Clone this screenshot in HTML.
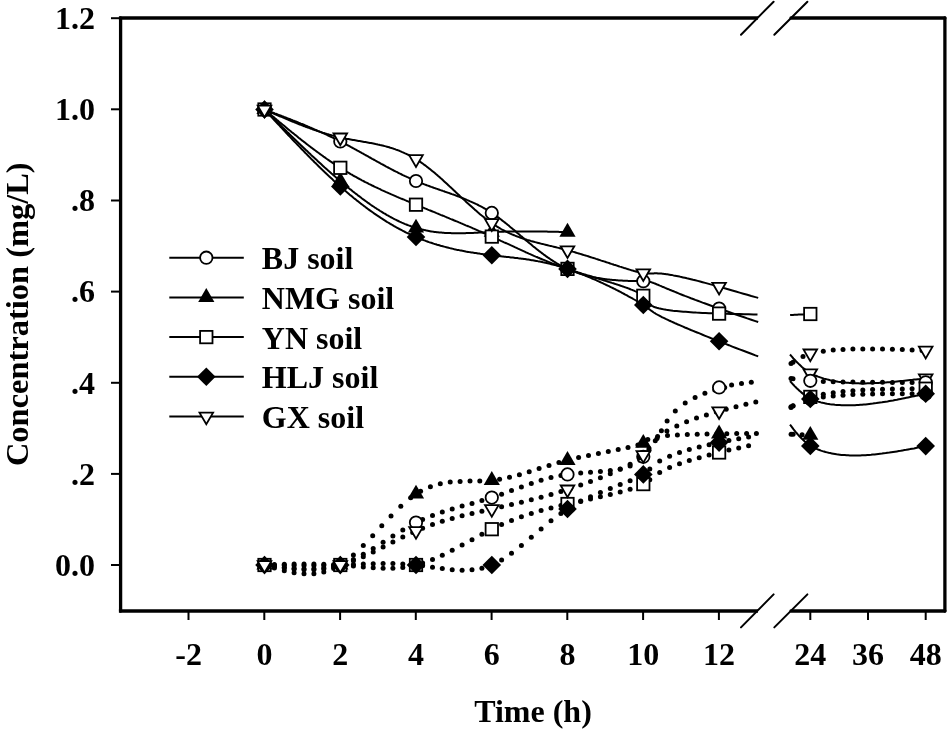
<!DOCTYPE html>
<html><head><meta charset="utf-8"><title>Concentration vs Time</title>
<style>
html,body{margin:0;padding:0;background:#fff;}
body{width:948px;height:732px;overflow:hidden;}
svg{display:block;}
text{font-family:"Liberation Serif",serif;font-weight:bold;font-size:32px;fill:#000;}
.ax{stroke:#000;stroke-width:3.3;fill:none;stroke-linecap:round;}
.tk{stroke:#000;stroke-width:2;fill:none;}
.sl{stroke:#000;stroke-width:2;fill:none;stroke-linecap:round;}
.ln{stroke:#000;stroke-width:2;fill:none;stroke-linejoin:round;}
.o{fill:#fff;stroke:#000;stroke-width:1.8;stroke-linejoin:miter;}
.f{fill:#000;stroke:none;}
.d{fill:#000;}
</style></head><body>
<svg width="948" height="732" viewBox="0 0 948 732">
<rect width="948" height="732" fill="#fff"/>
<g class="ax">
<path d="M120.6 18.0 V611.0"/>
<path d="M944.9 18.0 V611.0"/>
<path d="M118.9 18.0 H758" stroke-linecap="butt"/><path d="M791 18.0 H944.9"/>
<path d="M118.9 611.0 H758" stroke-linecap="butt"/><path d="M791 611.0 H944.9"/>
</g>
<g class="tk">
<path d="M111 18.2 H120"/>
<path d="M111 109.3 H120"/>
<path d="M111 200.5 H120"/>
<path d="M111 291.6 H120"/>
<path d="M111 382.8 H120"/>
<path d="M111 473.9 H120"/>
<path d="M111 565.0 H120"/>
<path d="M188.5 611 V620"/>
<path d="M264.3 611 V620"/>
<path d="M340.1 611 V620"/>
<path d="M415.8 611 V620"/>
<path d="M491.6 611 V620"/>
<path d="M567.3 611 V620"/>
<path d="M643.1 611 V620"/>
<path d="M718.9 611 V620"/>
<path d="M810.3 611 V620"/>
<path d="M868.0 611 V620"/>
<path d="M925.7 611 V620"/>
<path class="sl" d="M741.0 34.7 L773.6 1.7"/>
<path class="sl" d="M774.3 34.7 L807.4 1.7"/>
<path class="sl" d="M741.0 627.4 L773.6 594.4"/>
<path class="sl" d="M774.3 627.4 L807.4 594.4"/>
</g>
<text x="95" y="28.5" text-anchor="end">1.2</text>
<text x="95" y="119.8" text-anchor="end">1.0</text>
<text x="95" y="211.0" text-anchor="end">.8</text>
<text x="95" y="302.3" text-anchor="end">.6</text>
<text x="95" y="393.6" text-anchor="end">.4</text>
<text x="95" y="484.8" text-anchor="end">.2</text>
<text x="95" y="576.1" text-anchor="end">0.0</text>
<text x="188.7" y="665" text-anchor="middle">-2</text>
<text x="264.5" y="665" text-anchor="middle">0</text>
<text x="340.3" y="665" text-anchor="middle">2</text>
<text x="416.0" y="665" text-anchor="middle">4</text>
<text x="491.8" y="665" text-anchor="middle">6</text>
<text x="567.5" y="665" text-anchor="middle">8</text>
<text x="643.3" y="665" text-anchor="middle">10</text>
<text x="719.1" y="665" text-anchor="middle">12</text>
<text x="810.3" y="665" text-anchor="middle">24</text>
<text x="868.0" y="665" text-anchor="middle">36</text>
<text x="925.7" y="665" text-anchor="middle">48</text>
<text x="533" y="722" text-anchor="middle">Time (h)</text>
<text transform="translate(27.5 314.2) rotate(-90)" text-anchor="middle" style="font-size:32.46px">Concentration (mg/L)</text>
<g><!-- BJ solid -->
<path class="ln" d="M264.5 109.5 L265.6 109.9 L266.8 110.4 L267.9 110.8 L269.1 111.2 L270.2 111.6 L271.3 112.1 L272.5 112.5 L273.6 112.9 L274.7 113.4 L275.9 113.8 L277.0 114.2 L278.2 114.7 L279.3 115.1 L280.4 115.5 L281.6 116.0 L282.7 116.4 L283.8 116.8 L285.0 117.3 L286.1 117.7 L287.3 118.2 L288.4 118.6 L289.5 119.0 L290.7 119.5 L291.8 119.9 L292.9 120.4 L294.1 120.8 L295.2 121.3 L296.4 121.7 L297.5 122.2 L298.6 122.7 L299.8 123.1 L300.9 123.6 L302.0 124.0 L303.2 124.5 L304.3 125.0 L305.4 125.5 L306.6 125.9 L307.7 126.4 L308.9 126.9 L310.0 127.4 L311.1 127.8 L312.3 128.3 L313.4 128.8 L314.5 129.3 L315.7 129.8 L316.8 130.3 L317.9 130.8 L319.1 131.3 L320.2 131.8 L321.4 132.3 L322.5 132.8 L323.6 133.4 L324.8 133.9 L325.9 134.4 L327.0 134.9 L328.2 135.5 L329.3 136.0 L330.4 136.5 L331.6 137.1 L332.7 137.6 L333.8 138.2 L335.0 138.7 L336.1 139.3 L337.2 139.9 L338.4 140.4 L339.5 141.0 L340.4 141.5 L341.6 142.1 L342.7 142.6 L343.8 143.2 L345.0 143.8 L346.1 144.4 L347.2 145.0 L348.4 145.6 L349.5 146.2 L350.6 146.8 L351.8 147.5 L352.9 148.1 L354.0 148.7 L355.2 149.3 L356.3 149.9 L357.4 150.6 L358.6 151.2 L359.7 151.8 L360.8 152.4 L362.0 153.1 L363.1 153.7 L364.2 154.3 L365.4 155.0 L366.5 155.6 L367.6 156.2 L368.8 156.9 L369.9 157.5 L371.0 158.1 L372.2 158.8 L373.3 159.4 L374.4 160.0 L375.6 160.7 L376.7 161.3 L377.8 161.9 L379.0 162.5 L380.1 163.2 L381.2 163.8 L382.4 164.4 L383.5 165.0 L384.7 165.6 L385.8 166.3 L386.9 166.9 L388.1 167.5 L389.2 168.1 L390.3 168.7 L391.5 169.3 L392.6 169.9 L393.7 170.5 L394.9 171.1 L396.0 171.7 L397.2 172.2 L398.3 172.8 L399.4 173.4 L400.6 173.9 L401.7 174.5 L402.9 175.1 L404.0 175.6 L405.1 176.2 L406.3 176.7 L407.4 177.2 L408.6 177.7 L409.7 178.3 L410.9 178.8 L412.0 179.3 L413.2 179.8 L414.3 180.3 L415.4 180.8 L416.4 181.2 L417.5 181.6 L418.7 182.1 L419.8 182.6 L421.0 183.0 L422.1 183.5 L423.3 183.9 L424.4 184.4 L425.6 184.8 L426.7 185.2 L427.9 185.6 L429.0 186.0 L430.2 186.5 L431.3 186.9 L432.5 187.3 L433.6 187.7 L434.8 188.1 L435.9 188.5 L437.1 188.9 L438.2 189.3 L439.4 189.7 L440.5 190.1 L441.7 190.5 L442.8 190.9 L444.0 191.3 L445.1 191.7 L446.3 192.1 L447.4 192.5 L448.6 192.9 L449.7 193.3 L450.9 193.7 L452.0 194.1 L453.2 194.5 L454.3 194.9 L455.4 195.3 L456.6 195.8 L457.7 196.2 L458.9 196.6 L460.0 197.1 L461.1 197.5 L462.3 197.9 L463.4 198.4 L464.6 198.9 L465.7 199.3 L466.8 199.8 L468.0 200.3 L469.1 200.8 L470.2 201.3 L471.4 201.8 L472.5 202.3 L473.6 202.8 L474.7 203.3 L475.9 203.9 L477.0 204.4 L478.1 205.0 L479.2 205.6 L480.3 206.1 L481.4 206.7 L482.6 207.3 L483.7 208.0 L484.8 208.6 L485.9 209.2 L487.0 209.9 L488.1 210.6 L489.2 211.2 L490.3 211.9 L491.4 212.7 L492.3 213.3 L493.4 214.0 L494.5 214.8 L495.6 215.5 L496.7 216.3 L497.8 217.1 L498.9 217.9 L500.0 218.7 L501.1 219.5 L502.1 220.4 L503.2 221.2 L504.3 222.1 L505.4 222.9 L506.5 223.8 L507.6 224.7 L508.7 225.6 L509.7 226.5 L510.8 227.4 L511.9 228.3 L513.0 229.2 L514.1 230.1 L515.2 231.0 L516.3 232.0 L517.3 232.9 L518.4 233.8 L519.5 234.7 L520.6 235.7 L521.7 236.6 L522.8 237.6 L523.9 238.5 L525.0 239.4 L526.1 240.4 L527.2 241.3 L528.3 242.2 L529.5 243.2 L530.6 244.1 L531.7 245.0 L532.8 246.0 L533.9 246.9 L535.1 247.8 L536.2 248.7 L537.3 249.6 L538.5 250.5 L539.6 251.4 L540.8 252.3 L541.9 253.1 L543.1 254.0 L544.2 254.9 L545.4 255.7 L546.6 256.6 L547.7 257.4 L548.9 258.2 L550.1 259.0 L551.3 259.8 L552.5 260.6 L553.7 261.4 L554.9 262.1 L556.1 262.9 L557.3 263.6 L558.6 264.3 L559.8 265.0 L561.0 265.7 L562.3 266.3 L563.5 267.0 L564.8 267.6 L566.1 268.2 L567.3 268.8 L568.4 269.3 L569.7 269.9 L571.0 270.4 L572.3 270.9 L573.6 271.4 L574.9 271.9 L576.2 272.4 L577.5 272.9 L578.8 273.3 L580.2 273.7 L581.5 274.1 L582.8 274.5 L584.1 274.9 L585.5 275.2 L586.8 275.6 L588.1 275.9 L589.5 276.2 L590.8 276.5 L592.1 276.8 L593.4 277.1 L594.8 277.4 L596.1 277.6 L597.4 277.9 L598.7 278.1 L600.0 278.3 L601.3 278.5 L602.6 278.7 L603.9 278.9 L605.2 279.1 L606.4 279.2 L607.7 279.4 L609.0 279.5 L610.2 279.7 L611.4 279.8 L612.7 279.9 L613.9 280.0 L615.1 280.1 L616.3 280.2 L617.4 280.3 L618.6 280.4 L619.8 280.5 L620.9 280.5 L622.0 280.6 L623.1 280.7 L624.2 280.7 L625.3 280.8 L626.4 280.8 L627.4 280.8 L628.4 280.9 L629.4 280.9 L630.4 280.9 L631.4 281.0 L632.4 281.0 L633.3 281.0 L634.2 281.0 L635.1 281.0 L635.9 281.1 L636.8 281.1 L637.6 281.1 L638.4 281.1 L639.2 281.1 L639.9 281.1 L640.7 281.2 L641.4 281.2 L642.0 281.2 L642.7 281.2 L643.3 281.2 L643.8 281.2 L644.4 281.3 L644.9 281.3 L645.4 281.3 L645.9 281.4 L646.4 281.4 L646.9 281.4 L647.4 281.5 L647.8 281.5 L648.2 281.6 L648.7 281.7 L649.1 281.7 L649.5 281.8 L649.9 281.9 L650.3 282.0 L650.7 282.1 L651.2 282.2 L651.6 282.4 L652.0 282.5 L652.4 282.6 L652.9 282.8 L653.4 283.0 L653.8 283.1 L654.3 283.3 L654.9 283.5 L655.4 283.7 L655.9 284.0 L656.5 284.2 L657.1 284.5 L657.8 284.7 L658.5 285.0 L659.2 285.3 L659.9 285.6 L660.7 285.9 L661.5 286.3 L662.3 286.7 L663.2 287.0 L664.2 287.4 L665.2 287.9 L666.2 288.3 L667.3 288.8 L668.4 289.2 L669.6 289.7 L670.9 290.2 L672.2 290.8 L673.5 291.3 L675.0 291.9 L676.5 292.5 L678.0 293.1 L679.6 293.8 L681.3 294.5 L683.1 295.2 L684.9 295.9 L686.9 296.6 L688.9 297.4 L690.9 298.2 L693.1 299.0 L695.3 299.9 L697.7 300.7 L700.1 301.6 L702.6 302.6 L705.2 303.5 L707.9 304.5 L710.6 305.5 L713.5 306.6 L716.5 307.6 L719.1 308.6 L722.2 309.7 L725.5 310.8 L728.9 312.0 L732.3 313.2 L735.9 314.5 L739.6 315.8 L743.4 317.0 L747.3 318.4 L751.3 319.7 L755.4 321.1 L758.2 322.0"/>
<path class="ln" d="M790.0 381.0 L791.2 382.3 L792.3 383.6 L793.4 384.8 L794.6 386.1 L795.8 387.3 L797.0 388.5 L798.2 389.6 L799.4 390.7 L800.7 391.8 L801.9 392.9 L803.2 393.9 L804.5 394.9 L805.8 395.8 L807.1 396.7 L808.5 397.6 L809.8 398.5 L811.0 399.0 L812.4 399.6 L813.8 400.1 L815.2 400.6 L816.6 401.1 L818.1 401.6 L819.5 402.0 L821.0 402.4 L822.5 402.7 L824.0 403.1 L825.5 403.4 L827.1 403.7 L828.6 403.9 L830.2 404.2 L831.8 404.4 L833.4 404.6 L835.0 404.8 L836.6 404.9 L838.2 405.0 L839.8 405.1 L841.5 405.2 L843.1 405.3 L844.8 405.3 L846.5 405.3 L848.2 405.3 L849.9 405.3 L851.6 405.3 L853.3 405.2 L855.0 405.2 L856.8 405.1 L858.5 405.0 L860.3 404.8 L862.0 404.7 L863.8 404.5 L865.6 404.4 L867.4 404.2 L869.2 404.0 L871.0 403.8 L872.8 403.6 L874.6 403.3 L876.4 403.1 L878.3 402.8 L880.1 402.5 L882.0 402.3 L883.8 402.0 L885.7 401.7 L887.5 401.4 L889.4 401.0 L891.3 400.7 L893.1 400.4 L895.0 400.0 L896.9 399.7 L898.8 399.3 L900.7 398.9 L902.6 398.6 L904.4 398.2 L906.3 397.8 L908.2 397.4 L910.1 397.0 L912.1 396.6 L914.0 396.2 L915.9 395.8 L917.8 395.4 L919.7 395.0 L921.6 394.6 L923.5 394.2 L925.4 393.8 L925.7 393.7"/>
<circle cx="264.5" cy="109.5" r="6.2" class="o"/>
<circle cx="340.3" cy="141.4" r="6.2" class="o"/>
<circle cx="416.0" cy="181.0" r="6.2" class="o"/>
<circle cx="491.8" cy="212.9" r="6.2" class="o"/>
<circle cx="567.5" cy="268.9" r="6.2" class="o"/>
<circle cx="643.3" cy="281.2" r="6.2" class="o"/>
<circle cx="719.1" cy="308.6" r="6.2" class="o"/>
<circle cx="810.3" cy="398.7" r="6.2" class="o"/>
<circle cx="925.7" cy="393.7" r="6.2" class="o"/>
</g>
<g><!-- NMG solid -->
<path class="ln" d="M264.5 109.5 L265.6 110.6 L266.8 111.8 L267.9 112.9 L269.0 114.0 L270.2 115.1 L271.3 116.3 L272.5 117.4 L273.6 118.5 L274.7 119.6 L275.9 120.8 L277.0 121.9 L278.1 123.0 L279.3 124.1 L280.4 125.2 L281.5 126.4 L282.7 127.5 L283.8 128.6 L285.0 129.7 L286.1 130.8 L287.2 131.9 L288.4 133.0 L289.5 134.2 L290.6 135.3 L291.8 136.4 L292.9 137.5 L294.0 138.6 L295.2 139.7 L296.3 140.8 L297.5 141.9 L298.6 143.0 L299.7 144.1 L300.9 145.2 L302.0 146.2 L303.1 147.3 L304.3 148.4 L305.4 149.5 L306.5 150.6 L307.7 151.6 L308.8 152.7 L310.0 153.8 L311.1 154.9 L312.2 155.9 L313.4 157.0 L314.5 158.0 L315.6 159.1 L316.8 160.1 L317.9 161.2 L319.0 162.2 L320.2 163.3 L321.3 164.3 L322.5 165.4 L323.6 166.4 L324.7 167.4 L325.9 168.4 L327.0 169.4 L328.1 170.5 L329.3 171.5 L330.4 172.5 L331.5 173.5 L332.7 174.5 L333.8 175.5 L335.0 176.5 L336.1 177.4 L337.2 178.4 L338.4 179.4 L339.5 180.4 L340.4 181.2 L341.6 182.1 L342.7 183.1 L343.9 184.0 L345.0 185.0 L346.1 185.9 L347.3 186.9 L348.4 187.8 L349.5 188.7 L350.7 189.6 L351.8 190.5 L352.9 191.5 L354.1 192.3 L355.2 193.2 L356.4 194.1 L357.5 195.0 L358.6 195.9 L359.8 196.7 L360.9 197.6 L362.0 198.5 L363.2 199.3 L364.3 200.1 L365.5 201.0 L366.6 201.8 L367.7 202.6 L368.9 203.4 L370.0 204.2 L371.1 205.0 L372.3 205.8 L373.4 206.5 L374.5 207.3 L375.7 208.0 L376.8 208.8 L378.0 209.5 L379.1 210.2 L380.2 211.0 L381.4 211.7 L382.5 212.4 L383.6 213.1 L384.8 213.7 L385.9 214.4 L387.0 215.1 L388.2 215.7 L389.3 216.3 L390.5 217.0 L391.6 217.6 L392.7 218.2 L393.9 218.8 L395.0 219.4 L396.1 219.9 L397.3 220.5 L398.4 221.0 L399.5 221.6 L400.7 222.1 L401.8 222.6 L403.0 223.1 L404.1 223.6 L405.2 224.1 L406.4 224.5 L407.5 225.0 L408.6 225.4 L409.8 225.8 L410.9 226.2 L412.0 226.6 L413.2 227.0 L414.3 227.4 L415.5 227.8 L416.4 228.0 L417.5 228.4 L418.7 228.7 L419.8 229.0 L420.9 229.3 L422.1 229.6 L423.2 229.8 L424.4 230.1 L425.5 230.3 L426.6 230.6 L427.8 230.8 L428.9 231.0 L430.0 231.2 L431.2 231.4 L432.3 231.6 L433.4 231.7 L434.6 231.9 L435.7 232.0 L436.9 232.2 L438.0 232.3 L439.1 232.4 L440.3 232.5 L441.4 232.6 L442.5 232.7 L443.7 232.8 L444.8 232.9 L445.9 232.9 L447.1 233.0 L448.2 233.1 L449.4 233.1 L450.5 233.1 L451.6 233.2 L452.8 233.2 L453.9 233.2 L455.0 233.2 L456.2 233.3 L457.3 233.3 L458.4 233.3 L459.6 233.2 L460.7 233.2 L461.9 233.2 L463.0 233.2 L464.1 233.2 L465.3 233.2 L466.4 233.1 L467.5 233.1 L468.7 233.0 L469.8 233.0 L470.9 233.0 L472.1 232.9 L473.2 232.9 L474.4 232.8 L475.5 232.8 L476.6 232.7 L477.8 232.7 L478.9 232.6 L480.0 232.6 L481.2 232.5 L482.3 232.5 L483.4 232.4 L484.6 232.3 L485.7 232.3 L486.9 232.2 L488.0 232.2 L489.1 232.1 L490.3 232.1 L491.4 232.0 L492.3 232.0 L493.5 232.0 L494.6 231.9 L495.8 231.9 L496.9 231.8 L498.0 231.8 L499.2 231.8 L500.3 231.7 L501.4 231.7 L502.6 231.7 L503.7 231.7 L504.8 231.6 L506.0 231.6 L507.1 231.6 L508.3 231.6 L509.4 231.5 L510.5 231.5 L511.7 231.5 L512.8 231.5 L513.9 231.5 L515.1 231.5 L516.2 231.5 L517.3 231.5 L518.5 231.5 L519.6 231.5 L520.8 231.4 L521.9 231.4 L523.0 231.4 L524.2 231.4 L525.3 231.4 L526.4 231.4 L527.6 231.5 L528.7 231.5 L529.8 231.5 L531.0 231.5 L532.1 231.5 L533.3 231.5 L534.4 231.5 L535.5 231.5 L536.7 231.5 L537.8 231.5 L538.9 231.5 L540.1 231.6 L541.2 231.6 L542.3 231.6 L543.5 231.6 L544.6 231.6 L545.8 231.6 L546.9 231.6 L548.0 231.7 L549.2 231.7 L550.3 231.7 L551.4 231.7 L552.6 231.7 L553.7 231.8 L554.9 231.8 L556.0 231.8 L557.1 231.8 L558.3 231.8 L559.4 231.9 L560.5 231.9 L561.7 231.9 L562.8 231.9 L563.9 232.0 L565.1 232.0 L566.2 232.0 L567.4 232.0 L567.5 232.0"/>
<path d="M264.5 100.2 l8.1 13.9 h-16.2 z" class="f"/>
<path d="M340.3 171.7 l8.1 13.9 h-16.2 z" class="f"/>
<path d="M416.0 218.7 l8.1 13.9 h-16.2 z" class="f"/>
<path d="M491.8 222.8 l8.1 13.9 h-16.2 z" class="f"/>
<path d="M567.5 222.8 l8.1 13.9 h-16.2 z" class="f"/>
</g>
<g><!-- YN solid -->
<path class="ln" d="M264.5 109.5 L265.6 110.5 L266.8 111.4 L267.9 112.4 L269.1 113.3 L270.2 114.3 L271.3 115.2 L272.5 116.2 L273.6 117.1 L274.7 118.1 L275.9 119.0 L277.0 120.0 L278.2 120.9 L279.3 121.9 L280.4 122.8 L281.6 123.8 L282.7 124.7 L283.8 125.6 L285.0 126.6 L286.1 127.5 L287.3 128.5 L288.4 129.4 L289.5 130.3 L290.7 131.2 L291.8 132.2 L293.0 133.1 L294.1 134.0 L295.2 134.9 L296.4 135.8 L297.5 136.7 L298.6 137.7 L299.8 138.6 L300.9 139.5 L302.0 140.4 L303.2 141.3 L304.3 142.1 L305.5 143.0 L306.6 143.9 L307.7 144.8 L308.9 145.7 L310.0 146.5 L311.1 147.4 L312.3 148.3 L313.4 149.1 L314.6 150.0 L315.7 150.8 L316.8 151.7 L318.0 152.5 L319.1 153.3 L320.2 154.2 L321.4 155.0 L322.5 155.8 L323.6 156.6 L324.8 157.4 L325.9 158.2 L327.0 159.0 L328.2 159.8 L329.3 160.6 L330.4 161.4 L331.6 162.1 L332.7 162.9 L333.8 163.6 L335.0 164.4 L336.1 165.1 L337.2 165.9 L338.4 166.6 L339.5 167.3 L340.4 167.9 L341.6 168.6 L342.7 169.3 L343.8 170.0 L345.0 170.7 L346.1 171.4 L347.2 172.1 L348.4 172.7 L349.5 173.4 L350.6 174.1 L351.8 174.7 L352.9 175.4 L354.0 176.0 L355.2 176.6 L356.3 177.2 L357.4 177.9 L358.6 178.5 L359.7 179.1 L360.8 179.7 L361.9 180.3 L363.1 180.9 L364.2 181.5 L365.3 182.1 L366.5 182.6 L367.6 183.2 L368.7 183.8 L369.9 184.3 L371.0 184.9 L372.1 185.5 L373.3 186.0 L374.4 186.6 L375.5 187.1 L376.7 187.6 L377.8 188.2 L378.9 188.7 L380.1 189.2 L381.2 189.8 L382.3 190.3 L383.5 190.8 L384.6 191.3 L385.7 191.8 L386.9 192.3 L388.0 192.8 L389.2 193.4 L390.3 193.9 L391.4 194.4 L392.6 194.9 L393.7 195.3 L394.9 195.8 L396.0 196.3 L397.1 196.8 L398.3 197.3 L399.4 197.8 L400.6 198.3 L401.7 198.8 L402.8 199.2 L404.0 199.7 L405.1 200.2 L406.3 200.7 L407.4 201.1 L408.6 201.6 L409.7 202.1 L410.9 202.6 L412.0 203.0 L413.1 203.5 L414.3 204.0 L415.4 204.5 L416.4 204.9 L417.6 205.3 L418.7 205.8 L419.9 206.3 L421.0 206.7 L422.2 207.2 L423.3 207.7 L424.5 208.2 L425.6 208.6 L426.8 209.1 L427.9 209.6 L429.1 210.1 L430.2 210.5 L431.4 211.0 L432.6 211.5 L433.7 211.9 L434.9 212.4 L436.0 212.9 L437.2 213.4 L438.3 213.8 L439.5 214.3 L440.6 214.8 L441.8 215.3 L442.9 215.7 L444.1 216.2 L445.2 216.7 L446.4 217.2 L447.5 217.6 L448.7 218.1 L449.8 218.6 L451.0 219.1 L452.1 219.5 L453.3 220.0 L454.4 220.5 L455.6 221.0 L456.7 221.4 L457.9 221.9 L459.0 222.4 L460.2 222.9 L461.3 223.4 L462.4 223.8 L463.6 224.3 L464.7 224.8 L465.8 225.3 L467.0 225.8 L468.1 226.2 L469.2 226.7 L470.4 227.2 L471.5 227.7 L472.6 228.2 L473.7 228.6 L474.9 229.1 L476.0 229.6 L477.1 230.1 L478.2 230.6 L479.3 231.1 L480.4 231.5 L481.5 232.0 L482.6 232.5 L483.8 233.0 L484.9 233.5 L486.0 234.0 L487.1 234.5 L488.1 235.0 L489.2 235.4 L490.3 235.9 L491.4 236.4 L492.3 236.8 L493.4 237.3 L494.5 237.8 L495.6 238.3 L496.6 238.8 L497.7 239.3 L498.8 239.8 L499.9 240.3 L500.9 240.8 L502.0 241.3 L503.1 241.8 L504.1 242.3 L505.2 242.8 L506.3 243.2 L507.3 243.7 L508.4 244.2 L509.5 244.7 L510.5 245.2 L511.6 245.7 L512.7 246.2 L513.8 246.7 L514.8 247.2 L515.9 247.7 L517.0 248.2 L518.0 248.7 L519.1 249.2 L520.2 249.7 L521.3 250.2 L522.4 250.7 L523.5 251.2 L524.6 251.7 L525.6 252.2 L526.7 252.6 L527.8 253.1 L528.9 253.6 L530.1 254.1 L531.2 254.6 L532.3 255.1 L533.4 255.6 L534.5 256.1 L535.7 256.6 L536.8 257.0 L537.9 257.5 L539.1 258.0 L540.2 258.5 L541.4 259.0 L542.5 259.5 L543.7 259.9 L544.9 260.4 L546.1 260.9 L547.3 261.4 L548.5 261.9 L549.7 262.3 L550.9 262.8 L552.1 263.3 L553.3 263.8 L554.5 264.2 L555.8 264.7 L557.0 265.2 L558.3 265.6 L559.5 266.1 L560.8 266.6 L562.1 267.0 L563.4 267.5 L564.7 267.9 L566.0 268.4 L567.3 268.8 L568.4 269.2 L569.8 269.7 L571.1 270.1 L572.5 270.6 L573.8 271.0 L575.2 271.5 L576.6 271.9 L577.9 272.4 L579.3 272.8 L580.7 273.2 L582.1 273.7 L583.5 274.1 L584.9 274.5 L586.3 275.0 L587.7 275.4 L589.1 275.8 L590.5 276.3 L591.9 276.7 L593.2 277.1 L594.6 277.5 L596.0 278.0 L597.4 278.4 L598.8 278.8 L600.1 279.2 L601.5 279.6 L602.8 280.1 L604.2 280.5 L605.5 280.9 L606.8 281.3 L608.2 281.7 L609.5 282.1 L610.8 282.5 L612.0 282.9 L613.3 283.3 L614.6 283.7 L615.8 284.1 L617.0 284.5 L618.2 284.9 L619.4 285.3 L620.6 285.7 L621.8 286.1 L622.9 286.5 L624.0 286.9 L625.1 287.3 L626.2 287.6 L627.3 288.0 L628.3 288.4 L629.3 288.8 L630.3 289.2 L631.3 289.6 L632.2 289.9 L633.1 290.3 L634.0 290.7 L634.9 291.1 L635.7 291.4 L636.5 291.8 L637.3 292.2 L638.0 292.5 L638.7 292.9 L639.4 293.3 L640.1 293.6 L640.7 294.0 L641.3 294.4 L641.8 294.7 L642.4 295.1 L642.9 295.4 L643.3 295.8 L643.6 296.1 L644.0 296.5 L644.4 296.8 L644.7 297.2 L645.0 297.5 L645.3 297.9 L645.5 298.2 L645.7 298.5 L646.0 298.9 L646.2 299.2 L646.4 299.6 L646.5 299.9 L646.7 300.2 L646.9 300.6 L647.1 300.9 L647.2 301.2 L647.4 301.6 L647.6 301.9 L647.8 302.2 L648.0 302.5 L648.2 302.8 L648.5 303.2 L648.7 303.5 L649.0 303.8 L649.3 304.1 L649.6 304.4 L650.0 304.7 L650.4 305.0 L650.8 305.3 L651.3 305.6 L651.8 305.9 L652.4 306.1 L653.0 306.4 L653.6 306.7 L654.4 307.0 L655.1 307.3 L655.9 307.5 L656.8 307.8 L657.7 308.0 L658.7 308.3 L659.8 308.6 L661.0 308.8 L662.2 309.1 L663.4 309.3 L664.8 309.5 L666.3 309.8 L667.8 310.0 L669.4 310.2 L671.1 310.4 L672.9 310.7 L674.8 310.9 L676.7 311.1 L678.8 311.3 L681.0 311.5 L683.3 311.7 L685.7 311.8 L688.2 312.0 L690.8 312.2 L693.5 312.4 L696.3 312.6 L699.3 312.7 L702.4 312.9 L705.6 313.0 L708.9 313.2 L712.4 313.3 L716.0 313.5 L719.1 313.6 L722.9 313.7 L726.9 313.8 L731.0 313.9 L735.2 314.0 L739.6 314.1 L744.1 314.2 L748.7 314.3 L753.5 314.4 L757.5 314.5"/>
<path class="ln" d="M790.1 315.0 L791.2 314.9 L792.2 314.9 L793.2 314.9 L794.2 314.8 L795.2 314.8 L796.3 314.7 L797.3 314.7 L798.4 314.6 L799.4 314.6 L800.5 314.5 L801.5 314.5 L802.6 314.4 L803.6 314.4 L804.7 314.3 L805.7 314.3 L806.8 314.2 L807.8 314.1 L808.9 314.1 L809.9 314.0 L810.3 314.0"/>
<rect x="258.3" y="103.3" width="12.4" height="12.4" class="o"/>
<rect x="334.1" y="161.6" width="12.4" height="12.4" class="o"/>
<rect x="409.8" y="198.5" width="12.4" height="12.4" class="o"/>
<rect x="485.6" y="230.4" width="12.4" height="12.4" class="o"/>
<rect x="561.3" y="262.7" width="12.4" height="12.4" class="o"/>
<rect x="637.1" y="289.6" width="12.4" height="12.4" class="o"/>
<rect x="712.9" y="307.4" width="12.4" height="12.4" class="o"/>
<rect x="804.1" y="307.8" width="12.4" height="12.4" class="o"/>
</g>
<g><!-- HLJ solid -->
<path class="ln" d="M264.5 109.5 L265.6 110.7 L266.8 112.0 L267.9 113.2 L269.1 114.4 L270.2 115.6 L271.3 116.9 L272.5 118.1 L273.6 119.3 L274.7 120.6 L275.9 121.8 L277.0 123.0 L278.2 124.2 L279.3 125.4 L280.4 126.7 L281.6 127.9 L282.7 129.1 L283.8 130.3 L285.0 131.5 L286.1 132.7 L287.3 134.0 L288.4 135.2 L289.5 136.4 L290.7 137.6 L291.8 138.8 L292.9 140.0 L294.1 141.2 L295.2 142.4 L296.4 143.6 L297.5 144.7 L298.6 145.9 L299.8 147.1 L300.9 148.3 L302.0 149.5 L303.2 150.6 L304.3 151.8 L305.4 153.0 L306.6 154.1 L307.7 155.3 L308.9 156.5 L310.0 157.6 L311.1 158.8 L312.3 159.9 L313.4 161.0 L314.5 162.2 L315.7 163.3 L316.8 164.4 L317.9 165.5 L319.1 166.7 L320.2 167.8 L321.4 168.9 L322.5 170.0 L323.6 171.1 L324.8 172.2 L325.9 173.2 L327.0 174.3 L328.2 175.4 L329.3 176.5 L330.4 177.5 L331.6 178.6 L332.7 179.6 L333.8 180.7 L335.0 181.7 L336.1 182.8 L337.2 183.8 L338.4 184.8 L339.5 185.8 L340.4 186.6 L341.6 187.6 L342.7 188.6 L343.8 189.6 L345.0 190.6 L346.1 191.6 L347.2 192.5 L348.4 193.5 L349.5 194.5 L350.6 195.4 L351.8 196.3 L352.9 197.3 L354.0 198.2 L355.2 199.1 L356.3 200.0 L357.4 200.9 L358.6 201.8 L359.7 202.7 L360.8 203.6 L362.0 204.5 L363.1 205.3 L364.2 206.2 L365.4 207.0 L366.5 207.9 L367.6 208.7 L368.8 209.6 L369.9 210.4 L371.0 211.2 L372.2 212.0 L373.3 212.8 L374.4 213.6 L375.6 214.4 L376.7 215.2 L377.8 215.9 L379.0 216.7 L380.1 217.4 L381.2 218.2 L382.4 218.9 L383.5 219.6 L384.7 220.4 L385.8 221.1 L386.9 221.8 L388.1 222.5 L389.2 223.2 L390.3 223.9 L391.5 224.5 L392.6 225.2 L393.7 225.9 L394.9 226.5 L396.0 227.2 L397.2 227.8 L398.3 228.4 L399.4 229.0 L400.6 229.6 L401.7 230.2 L402.9 230.8 L404.0 231.4 L405.1 232.0 L406.3 232.6 L407.4 233.1 L408.6 233.7 L409.7 234.2 L410.9 234.7 L412.0 235.3 L413.2 235.8 L414.3 236.3 L415.4 236.8 L416.4 237.2 L417.5 237.7 L418.7 238.2 L419.8 238.6 L421.0 239.1 L422.1 239.5 L423.3 240.0 L424.4 240.4 L425.6 240.8 L426.7 241.3 L427.9 241.7 L429.0 242.1 L430.2 242.5 L431.3 242.8 L432.5 243.2 L433.6 243.6 L434.8 244.0 L435.9 244.3 L437.1 244.7 L438.2 245.0 L439.4 245.3 L440.5 245.7 L441.7 246.0 L442.8 246.3 L444.0 246.6 L445.1 246.9 L446.3 247.2 L447.4 247.5 L448.6 247.8 L449.7 248.1 L450.9 248.4 L452.0 248.6 L453.2 248.9 L454.3 249.2 L455.4 249.4 L456.6 249.7 L457.7 249.9 L458.9 250.1 L460.0 250.4 L461.1 250.6 L462.3 250.8 L463.4 251.0 L464.6 251.2 L465.7 251.5 L466.8 251.7 L468.0 251.9 L469.1 252.1 L470.2 252.2 L471.4 252.4 L472.5 252.6 L473.6 252.8 L474.7 253.0 L475.9 253.1 L477.0 253.3 L478.1 253.5 L479.2 253.6 L480.3 253.8 L481.4 253.9 L482.6 254.1 L483.7 254.2 L484.8 254.4 L485.9 254.5 L487.0 254.7 L488.1 254.8 L489.2 255.0 L490.3 255.1 L491.4 255.2 L492.3 255.3 L493.4 255.5 L494.5 255.6 L495.6 255.7 L496.7 255.8 L497.8 255.9 L498.9 256.1 L500.0 256.2 L501.1 256.3 L502.1 256.4 L503.2 256.5 L504.3 256.7 L505.4 256.8 L506.5 256.9 L507.6 257.0 L508.7 257.1 L509.7 257.2 L510.8 257.4 L511.9 257.5 L513.0 257.6 L514.1 257.7 L515.2 257.9 L516.3 258.0 L517.3 258.1 L518.4 258.3 L519.5 258.4 L520.6 258.5 L521.7 258.7 L522.8 258.8 L523.9 259.0 L525.0 259.1 L526.1 259.3 L527.2 259.5 L528.3 259.6 L529.5 259.8 L530.6 260.0 L531.7 260.2 L532.8 260.3 L533.9 260.5 L535.1 260.7 L536.2 260.9 L537.3 261.1 L538.5 261.4 L539.6 261.6 L540.8 261.8 L541.9 262.0 L543.1 262.3 L544.2 262.5 L545.4 262.8 L546.6 263.0 L547.7 263.3 L548.9 263.6 L550.1 263.9 L551.3 264.2 L552.5 264.5 L553.7 264.8 L554.9 265.1 L556.1 265.4 L557.3 265.8 L558.6 266.1 L559.8 266.5 L561.0 266.9 L562.3 267.2 L563.5 267.6 L564.8 268.0 L566.1 268.4 L567.3 268.9 L568.4 269.2 L569.7 269.7 L571.0 270.1 L572.3 270.6 L573.6 271.0 L574.9 271.5 L576.2 272.0 L577.5 272.5 L578.8 273.0 L580.2 273.5 L581.5 274.1 L582.8 274.6 L584.1 275.1 L585.5 275.7 L586.8 276.2 L588.1 276.8 L589.5 277.3 L590.8 277.9 L592.1 278.5 L593.4 279.1 L594.8 279.6 L596.1 280.2 L597.4 280.8 L598.7 281.4 L600.0 282.0 L601.3 282.6 L602.6 283.2 L603.9 283.8 L605.2 284.4 L606.4 285.0 L607.7 285.6 L609.0 286.2 L610.2 286.8 L611.4 287.4 L612.7 288.0 L613.9 288.6 L615.1 289.2 L616.3 289.9 L617.4 290.4 L618.6 291.0 L619.8 291.6 L620.9 292.2 L622.0 292.8 L623.1 293.4 L624.2 294.0 L625.3 294.6 L626.4 295.1 L627.4 295.7 L628.4 296.3 L629.4 296.8 L630.4 297.4 L631.4 297.9 L632.4 298.4 L633.3 299.0 L634.2 299.5 L635.1 300.0 L635.9 300.5 L636.8 301.0 L637.6 301.5 L638.4 302.0 L639.2 302.5 L639.9 302.9 L640.7 303.4 L641.4 303.8 L642.0 304.2 L642.7 304.6 L643.3 305.0 L643.8 305.4 L644.4 305.8 L644.9 306.1 L645.4 306.5 L645.9 306.8 L646.4 307.2 L646.9 307.5 L647.4 307.9 L647.8 308.2 L648.2 308.5 L648.7 308.8 L649.1 309.1 L649.5 309.4 L649.9 309.7 L650.3 310.0 L650.7 310.3 L651.2 310.6 L651.6 310.9 L652.0 311.2 L652.4 311.5 L652.9 311.9 L653.4 312.2 L653.8 312.5 L654.3 312.8 L654.9 313.1 L655.4 313.5 L655.9 313.8 L656.5 314.1 L657.1 314.5 L657.8 314.9 L658.5 315.2 L659.2 315.6 L659.9 316.0 L660.7 316.4 L661.5 316.8 L662.3 317.3 L663.2 317.7 L664.2 318.2 L665.2 318.7 L666.2 319.2 L667.3 319.7 L668.4 320.2 L669.6 320.8 L670.9 321.3 L672.2 321.9 L673.5 322.5 L675.0 323.2 L676.5 323.8 L678.0 324.5 L679.6 325.2 L681.3 325.9 L683.1 326.7 L684.9 327.5 L686.9 328.3 L688.9 329.1 L690.9 330.0 L693.1 330.9 L695.3 331.8 L697.7 332.7 L700.1 333.7 L702.6 334.7 L705.2 335.8 L707.9 336.9 L710.6 338.0 L713.5 339.1 L716.5 340.3 L719.1 341.3 L722.2 342.6 L725.5 343.9 L728.9 345.2 L732.3 346.6 L735.9 348.0 L739.6 349.4 L743.4 350.8 L747.3 352.3 L751.3 353.8 L755.4 355.4 L758.2 356.4"/>
<path class="ln" d="M790.0 424.6 L791.2 426.2 L792.3 427.7 L793.4 429.2 L794.6 430.6 L795.8 432.1 L797.0 433.5 L798.2 434.9 L799.4 436.2 L800.7 437.5 L801.9 438.8 L803.2 440.0 L804.5 441.2 L805.8 442.3 L807.1 443.5 L808.5 444.5 L809.8 445.6 L811.0 446.3 L812.4 447.0 L813.8 447.6 L815.2 448.3 L816.6 448.9 L818.1 449.5 L819.5 450.0 L821.0 450.6 L822.5 451.1 L824.0 451.5 L825.5 452.0 L827.1 452.4 L828.6 452.8 L830.2 453.1 L831.8 453.4 L833.4 453.7 L835.0 454.0 L836.6 454.3 L838.2 454.5 L839.8 454.7 L841.5 454.9 L843.1 455.0 L844.8 455.1 L846.5 455.3 L848.2 455.3 L849.9 455.4 L851.6 455.5 L853.3 455.5 L855.0 455.5 L856.8 455.5 L858.5 455.5 L860.3 455.4 L862.0 455.3 L863.8 455.3 L865.6 455.2 L867.4 455.0 L869.2 454.9 L871.0 454.8 L872.8 454.6 L874.6 454.4 L876.4 454.2 L878.3 454.0 L880.1 453.8 L882.0 453.6 L883.8 453.3 L885.7 453.1 L887.5 452.8 L889.4 452.6 L891.3 452.3 L893.1 452.0 L895.0 451.7 L896.9 451.4 L898.8 451.1 L900.7 450.8 L902.6 450.4 L904.4 450.1 L906.3 449.8 L908.2 449.4 L910.1 449.1 L912.1 448.7 L914.0 448.4 L915.9 448.0 L917.8 447.6 L919.7 447.3 L921.6 446.9 L923.5 446.5 L925.4 446.2 L925.7 446.1"/>
<path d="M264.5 100.2 l9.3 9.3 l-9.3 9.3 l-9.3 -9.3 z" class="f"/>
<path d="M340.3 177.2 l9.3 9.3 l-9.3 9.3 l-9.3 -9.3 z" class="f"/>
<path d="M416.0 227.7 l9.3 9.3 l-9.3 9.3 l-9.3 -9.3 z" class="f"/>
<path d="M491.8 246.0 l9.3 9.3 l-9.3 9.3 l-9.3 -9.3 z" class="f"/>
<path d="M567.5 259.6 l9.3 9.3 l-9.3 9.3 l-9.3 -9.3 z" class="f"/>
<path d="M643.3 295.7 l9.3 9.3 l-9.3 9.3 l-9.3 -9.3 z" class="f"/>
<path d="M719.1 332.0 l9.3 9.3 l-9.3 9.3 l-9.3 -9.3 z" class="f"/>
<path d="M810.3 436.6 l9.3 9.3 l-9.3 9.3 l-9.3 -9.3 z" class="f"/>
<path d="M925.7 436.8 l9.3 9.3 l-9.3 9.3 l-9.3 -9.3 z" class="f"/>
</g>
<g><!-- GX solid -->
<path class="ln" d="M264.5 109.5 L265.6 110.0 L266.8 110.5 L267.9 111.0 L269.1 111.5 L270.2 112.0 L271.3 112.5 L272.5 113.0 L273.6 113.5 L274.7 114.0 L275.9 114.5 L277.0 115.0 L278.2 115.5 L279.3 116.0 L280.4 116.5 L281.6 116.9 L282.7 117.4 L283.8 117.9 L285.0 118.4 L286.1 118.9 L287.3 119.4 L288.4 119.8 L289.5 120.3 L290.7 120.8 L291.8 121.3 L292.9 121.7 L294.1 122.2 L295.2 122.6 L296.4 123.1 L297.5 123.6 L298.6 124.0 L299.8 124.5 L300.9 124.9 L302.0 125.4 L303.2 125.8 L304.3 126.2 L305.4 126.7 L306.6 127.1 L307.7 127.5 L308.9 127.9 L310.0 128.3 L311.1 128.7 L312.3 129.2 L313.4 129.6 L314.5 130.0 L315.7 130.3 L316.8 130.7 L317.9 131.1 L319.1 131.5 L320.2 131.9 L321.4 132.2 L322.5 132.6 L323.6 132.9 L324.8 133.3 L325.9 133.6 L327.0 134.0 L328.2 134.3 L329.3 134.6 L330.4 134.9 L331.6 135.3 L332.7 135.6 L333.8 135.9 L335.0 136.1 L336.1 136.4 L337.2 136.7 L338.4 137.0 L339.5 137.2 L340.4 137.5 L341.6 137.7 L342.7 138.0 L343.8 138.2 L345.0 138.4 L346.1 138.7 L347.2 138.9 L348.4 139.1 L349.5 139.3 L350.6 139.5 L351.8 139.7 L352.9 139.9 L354.0 140.1 L355.2 140.3 L356.3 140.5 L357.4 140.7 L358.6 140.9 L359.7 141.1 L360.8 141.3 L362.0 141.5 L363.1 141.7 L364.2 141.9 L365.4 142.1 L366.5 142.3 L367.6 142.5 L368.8 142.7 L369.9 142.9 L371.0 143.1 L372.2 143.3 L373.3 143.5 L374.4 143.7 L375.6 144.0 L376.7 144.2 L377.8 144.5 L379.0 144.7 L380.1 145.0 L381.2 145.2 L382.4 145.5 L383.5 145.8 L384.7 146.1 L385.8 146.4 L386.9 146.7 L388.1 147.0 L389.2 147.3 L390.3 147.7 L391.5 148.0 L392.6 148.4 L393.7 148.8 L394.9 149.1 L396.0 149.6 L397.2 150.0 L398.3 150.4 L399.4 150.8 L400.6 151.3 L401.7 151.8 L402.9 152.3 L404.0 152.8 L405.1 153.3 L406.3 153.8 L407.4 154.4 L408.6 155.0 L409.7 155.5 L410.9 156.2 L412.0 156.8 L413.2 157.4 L414.3 158.1 L415.4 158.8 L416.4 159.4 L417.5 160.1 L418.7 160.9 L419.8 161.6 L421.0 162.4 L422.1 163.2 L423.3 164.0 L424.4 164.9 L425.6 165.7 L426.7 166.6 L427.9 167.5 L429.0 168.4 L430.2 169.3 L431.3 170.2 L432.5 171.2 L433.6 172.1 L434.8 173.1 L435.9 174.1 L437.1 175.1 L438.2 176.1 L439.4 177.1 L440.5 178.1 L441.7 179.1 L442.8 180.1 L444.0 181.2 L445.1 182.2 L446.3 183.3 L447.4 184.3 L448.6 185.4 L449.7 186.5 L450.9 187.5 L452.0 188.6 L453.2 189.7 L454.3 190.7 L455.4 191.8 L456.6 192.9 L457.7 193.9 L458.9 195.0 L460.0 196.1 L461.1 197.2 L462.3 198.2 L463.4 199.3 L464.6 200.3 L465.7 201.4 L466.8 202.4 L468.0 203.5 L469.1 204.5 L470.2 205.5 L471.4 206.6 L472.5 207.6 L473.6 208.6 L474.7 209.6 L475.9 210.5 L477.0 211.5 L478.1 212.5 L479.2 213.4 L480.3 214.4 L481.4 215.3 L482.6 216.2 L483.7 217.1 L484.8 218.0 L485.9 218.8 L487.0 219.7 L488.1 220.5 L489.2 221.3 L490.3 222.1 L491.4 222.9 L492.3 223.5 L493.4 224.3 L494.5 225.0 L495.6 225.7 L496.7 226.4 L497.8 227.0 L498.9 227.7 L500.0 228.3 L501.1 229.0 L502.1 229.6 L503.2 230.1 L504.3 230.7 L505.4 231.3 L506.5 231.8 L507.6 232.3 L508.7 232.8 L509.7 233.3 L510.8 233.8 L511.9 234.3 L513.0 234.8 L514.1 235.2 L515.2 235.7 L516.3 236.1 L517.3 236.5 L518.4 236.9 L519.5 237.3 L520.6 237.7 L521.7 238.1 L522.8 238.5 L523.9 238.8 L525.0 239.2 L526.1 239.5 L527.2 239.9 L528.3 240.2 L529.5 240.5 L530.6 240.9 L531.7 241.2 L532.8 241.5 L533.9 241.8 L535.1 242.1 L536.2 242.4 L537.3 242.7 L538.5 243.0 L539.6 243.3 L540.8 243.6 L541.9 243.9 L543.1 244.1 L544.2 244.4 L545.4 244.7 L546.6 245.0 L547.7 245.3 L548.9 245.6 L550.1 245.9 L551.3 246.1 L552.5 246.4 L553.7 246.7 L554.9 247.0 L556.1 247.3 L557.3 247.6 L558.6 247.9 L559.8 248.2 L561.0 248.5 L562.3 248.9 L563.5 249.2 L564.8 249.5 L566.1 249.9 L567.3 250.2 L568.4 250.5 L569.7 250.8 L571.0 251.2 L572.3 251.6 L573.6 251.9 L574.9 252.3 L576.2 252.7 L577.5 253.1 L578.8 253.5 L580.2 253.9 L581.5 254.3 L582.8 254.7 L584.1 255.1 L585.5 255.5 L586.8 255.9 L588.1 256.3 L589.5 256.8 L590.8 257.2 L592.1 257.6 L593.4 258.0 L594.8 258.4 L596.1 258.9 L597.4 259.3 L598.7 259.7 L600.0 260.1 L601.3 260.6 L602.6 261.0 L603.9 261.4 L605.2 261.8 L606.4 262.2 L607.7 262.6 L609.0 263.0 L610.2 263.5 L611.4 263.9 L612.7 264.3 L613.9 264.7 L615.1 265.0 L616.3 265.4 L617.4 265.8 L618.6 266.2 L619.8 266.6 L620.9 266.9 L622.0 267.3 L623.1 267.6 L624.2 268.0 L625.3 268.3 L626.4 268.6 L627.4 269.0 L628.4 269.3 L629.4 269.6 L630.4 269.9 L631.4 270.2 L632.4 270.4 L633.3 270.7 L634.2 271.0 L635.1 271.2 L635.9 271.5 L636.8 271.7 L637.6 271.9 L638.4 272.1 L639.2 272.3 L639.9 272.5 L640.7 272.6 L641.4 272.8 L642.0 272.9 L642.7 273.0 L643.3 273.2 L643.8 273.2 L644.4 273.3 L644.9 273.4 L645.4 273.5 L645.9 273.5 L646.4 273.6 L646.9 273.6 L647.4 273.6 L647.8 273.6 L648.2 273.6 L648.7 273.6 L649.1 273.6 L649.5 273.6 L649.9 273.6 L650.3 273.6 L650.7 273.5 L651.2 273.5 L651.6 273.5 L652.0 273.5 L652.4 273.4 L652.9 273.4 L653.4 273.4 L653.8 273.4 L654.3 273.3 L654.9 273.3 L655.4 273.3 L655.9 273.3 L656.5 273.3 L657.1 273.3 L657.8 273.4 L658.5 273.4 L659.2 273.4 L659.9 273.5 L660.7 273.5 L661.5 273.6 L662.3 273.7 L663.2 273.8 L664.2 273.9 L665.2 274.0 L666.2 274.2 L667.3 274.3 L668.4 274.5 L669.6 274.7 L670.9 274.9 L672.2 275.1 L673.5 275.4 L675.0 275.7 L676.5 276.0 L678.0 276.3 L679.6 276.6 L681.3 277.0 L683.1 277.4 L684.9 277.8 L686.9 278.3 L688.9 278.7 L690.9 279.2 L693.1 279.8 L695.3 280.3 L697.7 280.9 L700.1 281.5 L702.6 282.2 L705.2 282.9 L707.9 283.6 L710.6 284.4 L713.5 285.1 L716.5 286.0 L719.1 286.7 L722.2 287.6 L725.5 288.5 L728.9 289.5 L732.3 290.5 L735.9 291.5 L739.6 292.6 L743.4 293.7 L747.3 294.8 L751.3 296.0 L755.4 297.1 L758.2 297.9"/>
<path class="ln" d="M790.0 354.5 L791.2 355.9 L792.3 357.2 L793.4 358.5 L794.6 359.7 L795.8 361.0 L797.0 362.2 L798.2 363.4 L799.4 364.6 L800.7 365.8 L801.9 366.9 L803.2 368.0 L804.5 369.0 L805.8 370.1 L807.1 371.0 L808.5 372.0 L809.8 372.9 L811.0 373.6 L812.4 374.2 L813.8 374.9 L815.2 375.5 L816.6 376.0 L818.1 376.6 L819.5 377.1 L821.0 377.6 L822.5 378.1 L824.0 378.6 L825.5 379.0 L827.1 379.4 L828.6 379.8 L830.2 380.2 L831.8 380.5 L833.4 380.8 L835.0 381.1 L836.6 381.4 L838.2 381.7 L839.8 381.9 L841.5 382.1 L843.1 382.3 L844.8 382.5 L846.5 382.7 L848.2 382.8 L849.9 382.9 L851.6 383.0 L853.3 383.1 L855.0 383.2 L856.8 383.3 L858.5 383.3 L860.3 383.4 L862.0 383.4 L863.8 383.4 L865.6 383.4 L867.4 383.3 L869.2 383.3 L871.0 383.3 L872.8 383.2 L874.6 383.1 L876.4 383.0 L878.3 382.9 L880.1 382.8 L882.0 382.7 L883.8 382.6 L885.7 382.5 L887.5 382.3 L889.4 382.2 L891.3 382.0 L893.1 381.8 L895.0 381.7 L896.9 381.5 L898.8 381.3 L900.7 381.1 L902.6 380.9 L904.4 380.7 L906.3 380.5 L908.2 380.3 L910.1 380.1 L912.1 379.9 L914.0 379.6 L915.9 379.4 L917.8 379.2 L919.7 379.0 L921.6 378.7 L923.5 378.5 L925.4 378.3 L925.7 378.2"/>
<path d="M257.7 105.6 h13.6 l-6.8 11.7 z" class="o"/>
<path d="M333.5 133.5 h13.6 l-6.8 11.7 z" class="o"/>
<path d="M409.2 155.2 h13.6 l-6.8 11.7 z" class="o"/>
<path d="M485.0 219.2 h13.6 l-6.8 11.7 z" class="o"/>
<path d="M560.7 246.3 h13.6 l-6.8 11.7 z" class="o"/>
<path d="M636.5 269.3 h13.6 l-6.8 11.7 z" class="o"/>
<path d="M712.3 282.8 h13.6 l-6.8 11.7 z" class="o"/>
<path d="M803.5 369.3 h13.6 l-6.8 11.7 z" class="o"/>
<path d="M918.9 374.3 h13.6 l-6.8 11.7 z" class="o"/>
</g>
<g><!-- BJ dotted -->
<g class="d"><circle cx="274.4" cy="566.6" r="2.5"/><circle cx="284.3" cy="568.1" r="2.5"/><circle cx="294.1" cy="569.2" r="2.5"/><circle cx="304.0" cy="569.8" r="2.5"/><circle cx="313.9" cy="569.8" r="2.5"/><circle cx="323.8" cy="568.9" r="2.5"/><circle cx="333.7" cy="566.9" r="2.5"/><circle cx="343.5" cy="563.8" r="2.5"/><circle cx="353.4" cy="559.5" r="2.5"/><circle cx="363.3" cy="554.3" r="2.5"/><circle cx="373.2" cy="548.5" r="2.5"/><circle cx="383.1" cy="542.3" r="2.5"/><circle cx="392.9" cy="536.0" r="2.5"/><circle cx="402.8" cy="529.9" r="2.5"/><circle cx="412.7" cy="524.3" r="2.5"/><circle cx="422.6" cy="519.5" r="2.5"/><circle cx="432.5" cy="515.5" r="2.5"/><circle cx="442.3" cy="512.0" r="2.5"/><circle cx="452.2" cy="508.9" r="2.5"/><circle cx="462.1" cy="506.1" r="2.5"/><circle cx="472.0" cy="503.4" r="2.5"/><circle cx="481.9" cy="500.6" r="2.5"/><circle cx="491.7" cy="497.6" r="2.5"/><circle cx="501.6" cy="494.2" r="2.5"/><circle cx="511.5" cy="490.6" r="2.5"/><circle cx="521.4" cy="487.0" r="2.5"/><circle cx="531.3" cy="483.5" r="2.5"/><circle cx="541.1" cy="480.3" r="2.5"/><circle cx="551.0" cy="477.6" r="2.5"/><circle cx="560.9" cy="475.4" r="2.5"/><circle cx="570.8" cy="473.9" r="2.5"/><circle cx="580.7" cy="472.9" r="2.5"/><circle cx="590.5" cy="472.2" r="2.5"/><circle cx="600.4" cy="471.5" r="2.5"/><circle cx="610.3" cy="470.5" r="2.5"/><circle cx="620.2" cy="468.9" r="2.5"/><circle cx="630.1" cy="466.0" r="2.5"/><circle cx="639.9" cy="460.2" r="2.5"/><circle cx="648.9" cy="450.5" r="2.5"/><circle cx="655.3" cy="440.7" r="2.5"/><circle cx="661.4" cy="430.8" r="2.5"/><circle cx="667.1" cy="420.9" r="2.5"/><circle cx="675.3" cy="411.0" r="2.5"/><circle cx="685.2" cy="403.1" r="2.5"/><circle cx="695.1" cy="397.5" r="2.5"/><circle cx="704.9" cy="393.3" r="2.5"/><circle cx="714.8" cy="390.1" r="2.5"/><circle cx="724.7" cy="387.5" r="2.5"/><circle cx="721.7" cy="386.8" r="2.5"/><circle cx="731.6" cy="384.9" r="2.5"/><circle cx="741.5" cy="383.4" r="2.5"/><circle cx="751.3" cy="382.2" r="2.5"/><circle cx="791.0" cy="378.6" r="2.5"/><circle cx="793.0" cy="378.8" r="2.5"/><circle cx="823.3" cy="381.4" r="2.5"/><circle cx="833.2" cy="381.7" r="2.5"/><circle cx="843.0" cy="381.9" r="2.5"/><circle cx="852.9" cy="382.1" r="2.5"/><circle cx="862.8" cy="382.2" r="2.5"/><circle cx="872.6" cy="382.3" r="2.5"/><circle cx="882.5" cy="382.3" r="2.5"/><circle cx="892.4" cy="382.4" r="2.5"/><circle cx="902.3" cy="382.4" r="2.5"/><circle cx="912.1" cy="382.4" r="2.5"/><circle cx="922.0" cy="382.3" r="2.5"/></g>
<circle cx="264.5" cy="565.0" r="6.2" class="o"/>
<circle cx="340.3" cy="565.0" r="6.2" class="o"/>
<circle cx="416.0" cy="522.6" r="6.2" class="o"/>
<circle cx="491.8" cy="497.6" r="6.2" class="o"/>
<circle cx="567.5" cy="474.4" r="6.2" class="o"/>
<circle cx="643.3" cy="456.8" r="6.2" class="o"/>
<circle cx="719.1" cy="387.4" r="6.2" class="o"/>
<circle cx="810.3" cy="380.8" r="6.2" class="o"/>
<circle cx="925.7" cy="382.3" r="6.2" class="o"/>
</g>
<g><!-- NMG dotted -->
<g class="d"><circle cx="274.4" cy="568.0" r="2.5"/><circle cx="284.3" cy="570.7" r="2.5"/><circle cx="294.1" cy="572.7" r="2.5"/><circle cx="304.0" cy="573.8" r="2.5"/><circle cx="313.9" cy="573.7" r="2.5"/><circle cx="323.8" cy="572.1" r="2.5"/><circle cx="333.7" cy="568.6" r="2.5"/><circle cx="343.5" cy="562.8" r="2.5"/><circle cx="353.4" cy="555.0" r="2.5"/><circle cx="363.3" cy="545.6" r="2.5"/><circle cx="372.7" cy="535.7" r="2.5"/><circle cx="381.8" cy="525.8" r="2.5"/><circle cx="391.0" cy="515.9" r="2.5"/><circle cx="400.8" cy="506.2" r="2.5"/><circle cx="410.7" cy="497.7" r="2.5"/><circle cx="420.6" cy="491.2" r="2.5"/><circle cx="430.4" cy="486.7" r="2.5"/><circle cx="440.3" cy="483.8" r="2.5"/><circle cx="450.2" cy="482.1" r="2.5"/><circle cx="460.1" cy="481.4" r="2.5"/><circle cx="470.0" cy="481.1" r="2.5"/><circle cx="479.8" cy="480.9" r="2.5"/><circle cx="489.7" cy="480.5" r="2.5"/><circle cx="499.6" cy="479.2" r="2.5"/><circle cx="509.5" cy="477.3" r="2.5"/><circle cx="519.4" cy="474.7" r="2.5"/><circle cx="529.2" cy="471.7" r="2.5"/><circle cx="539.1" cy="468.6" r="2.5"/><circle cx="549.0" cy="465.5" r="2.5"/><circle cx="558.9" cy="462.6" r="2.5"/><circle cx="568.8" cy="459.9" r="2.5"/><circle cx="578.6" cy="457.6" r="2.5"/><circle cx="588.5" cy="455.4" r="2.5"/><circle cx="598.4" cy="453.4" r="2.5"/><circle cx="608.3" cy="451.4" r="2.5"/><circle cx="618.2" cy="449.5" r="2.5"/><circle cx="628.0" cy="447.4" r="2.5"/><circle cx="637.9" cy="445.0" r="2.5"/><circle cx="647.8" cy="439.6" r="2.5"/><circle cx="657.6" cy="436.5" r="2.5"/><circle cx="667.5" cy="435.5" r="2.5"/><circle cx="677.4" cy="434.9" r="2.5"/><circle cx="687.3" cy="434.5" r="2.5"/><circle cx="697.2" cy="434.2" r="2.5"/><circle cx="707.0" cy="434.0" r="2.5"/><circle cx="716.9" cy="433.8" r="2.5"/><circle cx="726.8" cy="433.7" r="2.5"/><circle cx="736.7" cy="433.6" r="2.5"/><circle cx="746.6" cy="433.5" r="2.5"/><circle cx="756.4" cy="433.5" r="2.5"/><circle cx="791.1" cy="434.2" r="2.5"/><circle cx="793.1" cy="434.3" r="2.5"/><circle cx="802.1" cy="434.7" r="2.5"/></g>
<path d="M264.5 555.7 l8.1 13.9 h-16.2 z" class="f"/>
<path d="M340.3 555.7 l8.1 13.9 h-16.2 z" class="f"/>
<path d="M416.0 484.7 l8.1 13.9 h-16.2 z" class="f"/>
<path d="M491.8 471.0 l8.1 13.9 h-16.2 z" class="f"/>
<path d="M567.5 451.0 l8.1 13.9 h-16.2 z" class="f"/>
<path d="M643.3 433.9 l8.1 13.9 h-16.2 z" class="f"/>
<path d="M719.1 424.5 l8.1 13.9 h-16.2 z" class="f"/>
<path d="M810.3 425.9 l8.1 13.9 h-16.2 z" class="f"/>
</g>
<g><!-- YN dotted -->
<g class="d"><circle cx="274.4" cy="564.6" r="2.5"/><circle cx="284.3" cy="564.3" r="2.5"/><circle cx="294.1" cy="564.1" r="2.5"/><circle cx="304.0" cy="564.0" r="2.5"/><circle cx="313.9" cy="564.0" r="2.5"/><circle cx="323.8" cy="564.2" r="2.5"/><circle cx="333.7" cy="564.6" r="2.5"/><circle cx="343.5" cy="565.3" r="2.5"/><circle cx="353.4" cy="566.1" r="2.5"/><circle cx="363.3" cy="567.1" r="2.5"/><circle cx="373.2" cy="567.8" r="2.5"/><circle cx="383.1" cy="568.3" r="2.5"/><circle cx="392.9" cy="568.2" r="2.5"/><circle cx="402.8" cy="567.4" r="2.5"/><circle cx="412.7" cy="565.8" r="2.5"/><circle cx="422.6" cy="563.1" r="2.5"/><circle cx="432.5" cy="559.5" r="2.5"/><circle cx="442.3" cy="555.2" r="2.5"/><circle cx="452.2" cy="550.3" r="2.5"/><circle cx="462.1" cy="545.0" r="2.5"/><circle cx="472.0" cy="539.7" r="2.5"/><circle cx="481.9" cy="534.3" r="2.5"/><circle cx="491.7" cy="529.2" r="2.5"/><circle cx="501.6" cy="524.6" r="2.5"/><circle cx="511.5" cy="520.5" r="2.5"/><circle cx="521.4" cy="516.8" r="2.5"/><circle cx="531.3" cy="513.5" r="2.5"/><circle cx="541.1" cy="510.6" r="2.5"/><circle cx="551.0" cy="508.0" r="2.5"/><circle cx="560.9" cy="505.5" r="2.5"/><circle cx="570.8" cy="503.2" r="2.5"/><circle cx="580.7" cy="501.0" r="2.5"/><circle cx="590.5" cy="498.9" r="2.5"/><circle cx="600.4" cy="496.7" r="2.5"/><circle cx="610.3" cy="494.4" r="2.5"/><circle cx="620.2" cy="491.9" r="2.5"/><circle cx="630.1" cy="489.2" r="2.5"/><circle cx="639.9" cy="485.7" r="2.5"/><circle cx="649.8" cy="479.7" r="2.5"/><circle cx="659.7" cy="472.4" r="2.5"/><circle cx="669.6" cy="467.5" r="2.5"/><circle cx="679.5" cy="463.8" r="2.5"/><circle cx="689.3" cy="460.6" r="2.5"/><circle cx="699.2" cy="457.7" r="2.5"/><circle cx="709.1" cy="455.0" r="2.5"/><circle cx="719.0" cy="452.5" r="2.5"/><circle cx="728.9" cy="450.1" r="2.5"/><circle cx="738.7" cy="447.9" r="2.5"/><circle cx="748.6" cy="445.7" r="2.5"/><circle cx="791.0" cy="407.4" r="2.5"/><circle cx="793.0" cy="406.0" r="2.5"/><circle cx="823.3" cy="394.2" r="2.5"/><circle cx="833.2" cy="392.7" r="2.5"/><circle cx="843.0" cy="391.6" r="2.5"/><circle cx="852.9" cy="390.7" r="2.5"/><circle cx="862.8" cy="390.1" r="2.5"/><circle cx="872.6" cy="389.6" r="2.5"/><circle cx="882.5" cy="389.3" r="2.5"/><circle cx="892.4" cy="389.1" r="2.5"/><circle cx="902.3" cy="388.9" r="2.5"/><circle cx="912.1" cy="388.8" r="2.5"/><circle cx="922.0" cy="388.7" r="2.5"/></g>
<rect x="258.3" y="558.8" width="12.4" height="12.4" class="o"/>
<rect x="334.1" y="558.8" width="12.4" height="12.4" class="o"/>
<rect x="409.8" y="558.8" width="12.4" height="12.4" class="o"/>
<rect x="485.6" y="523.0" width="12.4" height="12.4" class="o"/>
<rect x="561.3" y="497.8" width="12.4" height="12.4" class="o"/>
<rect x="637.1" y="477.9" width="12.4" height="12.4" class="o"/>
<rect x="712.9" y="446.3" width="12.4" height="12.4" class="o"/>
<rect x="804.1" y="390.7" width="12.4" height="12.4" class="o"/>
<rect x="919.5" y="382.5" width="12.4" height="12.4" class="o"/>
</g>
<g><!-- HLJ dotted -->
<g class="d"><circle cx="274.4" cy="565.2" r="2.5"/><circle cx="284.3" cy="565.3" r="2.5"/><circle cx="294.1" cy="565.4" r="2.5"/><circle cx="304.0" cy="565.4" r="2.5"/><circle cx="313.9" cy="565.4" r="2.5"/><circle cx="323.8" cy="565.4" r="2.5"/><circle cx="333.7" cy="565.2" r="2.5"/><circle cx="343.5" cy="564.9" r="2.5"/><circle cx="353.4" cy="564.5" r="2.5"/><circle cx="363.3" cy="564.1" r="2.5"/><circle cx="373.2" cy="563.8" r="2.5"/><circle cx="383.1" cy="563.6" r="2.5"/><circle cx="392.9" cy="563.6" r="2.5"/><circle cx="402.8" cy="564.0" r="2.5"/><circle cx="412.7" cy="564.7" r="2.5"/><circle cx="422.6" cy="565.8" r="2.5"/><circle cx="432.5" cy="567.2" r="2.5"/><circle cx="442.3" cy="568.6" r="2.5"/><circle cx="452.2" cy="569.7" r="2.5"/><circle cx="462.1" cy="570.2" r="2.5"/><circle cx="472.0" cy="569.8" r="2.5"/><circle cx="481.9" cy="568.2" r="2.5"/><circle cx="491.7" cy="565.0" r="2.5"/><circle cx="501.6" cy="560.0" r="2.5"/><circle cx="511.5" cy="553.3" r="2.5"/><circle cx="521.4" cy="545.6" r="2.5"/><circle cx="531.3" cy="537.3" r="2.5"/><circle cx="541.1" cy="528.9" r="2.5"/><circle cx="551.0" cy="520.8" r="2.5"/><circle cx="560.9" cy="513.4" r="2.5"/><circle cx="570.8" cy="507.0" r="2.5"/><circle cx="580.7" cy="501.5" r="2.5"/><circle cx="590.5" cy="496.7" r="2.5"/><circle cx="600.4" cy="492.4" r="2.5"/><circle cx="610.3" cy="488.4" r="2.5"/><circle cx="620.2" cy="484.6" r="2.5"/><circle cx="630.1" cy="480.7" r="2.5"/><circle cx="639.9" cy="476.3" r="2.5"/><circle cx="649.8" cy="469.1" r="2.5"/><circle cx="659.7" cy="461.0" r="2.5"/><circle cx="669.6" cy="456.2" r="2.5"/><circle cx="679.5" cy="452.6" r="2.5"/><circle cx="689.3" cy="449.6" r="2.5"/><circle cx="699.2" cy="447.0" r="2.5"/><circle cx="709.1" cy="444.7" r="2.5"/><circle cx="719.0" cy="442.6" r="2.5"/><circle cx="728.9" cy="440.6" r="2.5"/><circle cx="738.7" cy="438.7" r="2.5"/><circle cx="748.6" cy="436.9" r="2.5"/><circle cx="791.0" cy="406.8" r="2.5"/><circle cx="793.0" cy="405.8" r="2.5"/><circle cx="823.3" cy="397.0" r="2.5"/><circle cx="833.2" cy="395.9" r="2.5"/><circle cx="843.0" cy="395.2" r="2.5"/><circle cx="852.9" cy="394.6" r="2.5"/><circle cx="862.8" cy="394.2" r="2.5"/><circle cx="872.6" cy="393.9" r="2.5"/><circle cx="882.5" cy="393.8" r="2.5"/><circle cx="892.4" cy="393.7" r="2.5"/><circle cx="902.3" cy="393.7" r="2.5"/><circle cx="912.1" cy="393.7" r="2.5"/><circle cx="922.0" cy="393.7" r="2.5"/></g>
<path d="M264.5 555.7 l9.3 9.3 l-9.3 9.3 l-9.3 -9.3 z" class="f"/>
<path d="M340.3 555.7 l9.3 9.3 l-9.3 9.3 l-9.3 -9.3 z" class="f"/>
<path d="M416.0 555.7 l9.3 9.3 l-9.3 9.3 l-9.3 -9.3 z" class="f"/>
<path d="M491.8 555.7 l9.3 9.3 l-9.3 9.3 l-9.3 -9.3 z" class="f"/>
<path d="M567.5 499.7 l9.3 9.3 l-9.3 9.3 l-9.3 -9.3 z" class="f"/>
<path d="M643.3 465.1 l9.3 9.3 l-9.3 9.3 l-9.3 -9.3 z" class="f"/>
<path d="M719.1 433.3 l9.3 9.3 l-9.3 9.3 l-9.3 -9.3 z" class="f"/>
<path d="M810.3 389.7 l9.3 9.3 l-9.3 9.3 l-9.3 -9.3 z" class="f"/>
<path d="M925.7 384.4 l9.3 9.3 l-9.3 9.3 l-9.3 -9.3 z" class="f"/>
</g>
<g><!-- GX dotted -->
<g class="d"><circle cx="274.4" cy="566.3" r="2.5"/><circle cx="284.3" cy="567.4" r="2.5"/><circle cx="294.1" cy="568.3" r="2.5"/><circle cx="304.0" cy="568.7" r="2.5"/><circle cx="313.9" cy="568.7" r="2.5"/><circle cx="323.8" cy="568.0" r="2.5"/><circle cx="333.7" cy="566.5" r="2.5"/><circle cx="343.5" cy="564.1" r="2.5"/><circle cx="353.4" cy="560.7" r="2.5"/><circle cx="363.3" cy="556.7" r="2.5"/><circle cx="373.2" cy="552.0" r="2.5"/><circle cx="383.1" cy="547.1" r="2.5"/><circle cx="392.9" cy="542.1" r="2.5"/><circle cx="402.8" cy="537.1" r="2.5"/><circle cx="412.7" cy="532.4" r="2.5"/><circle cx="422.6" cy="528.3" r="2.5"/><circle cx="432.5" cy="524.6" r="2.5"/><circle cx="442.3" cy="521.3" r="2.5"/><circle cx="452.2" cy="518.4" r="2.5"/><circle cx="462.1" cy="515.8" r="2.5"/><circle cx="472.0" cy="513.4" r="2.5"/><circle cx="481.9" cy="511.2" r="2.5"/><circle cx="491.7" cy="509.0" r="2.5"/><circle cx="501.6" cy="506.8" r="2.5"/><circle cx="511.5" cy="504.6" r="2.5"/><circle cx="521.4" cy="502.2" r="2.5"/><circle cx="531.3" cy="499.8" r="2.5"/><circle cx="541.1" cy="497.2" r="2.5"/><circle cx="551.0" cy="494.4" r="2.5"/><circle cx="560.9" cy="491.5" r="2.5"/><circle cx="570.8" cy="488.3" r="2.5"/><circle cx="580.7" cy="485.1" r="2.5"/><circle cx="590.5" cy="481.6" r="2.5"/><circle cx="600.4" cy="477.8" r="2.5"/><circle cx="610.3" cy="473.8" r="2.5"/><circle cx="620.2" cy="469.3" r="2.5"/><circle cx="630.1" cy="464.2" r="2.5"/><circle cx="639.9" cy="457.8" r="2.5"/><circle cx="649.0" cy="448.5" r="2.5"/><circle cx="657.0" cy="438.6" r="2.5"/><circle cx="666.9" cy="431.1" r="2.5"/><circle cx="676.8" cy="425.9" r="2.5"/><circle cx="686.6" cy="421.7" r="2.5"/><circle cx="696.5" cy="418.1" r="2.5"/><circle cx="706.4" cy="414.9" r="2.5"/><circle cx="716.3" cy="412.0" r="2.5"/><circle cx="726.2" cy="409.2" r="2.5"/><circle cx="736.0" cy="406.7" r="2.5"/><circle cx="745.9" cy="404.2" r="2.5"/><circle cx="755.8" cy="401.9" r="2.5"/><circle cx="791.0" cy="363.5" r="2.5"/><circle cx="793.0" cy="362.2" r="2.5"/><circle cx="803.0" cy="356.5" r="2.5"/><circle cx="823.3" cy="351.2" r="2.5"/><circle cx="833.2" cy="350.1" r="2.5"/><circle cx="843.0" cy="349.4" r="2.5"/><circle cx="852.9" cy="349.0" r="2.5"/><circle cx="862.8" cy="348.9" r="2.5"/><circle cx="872.6" cy="348.9" r="2.5"/><circle cx="882.5" cy="349.0" r="2.5"/><circle cx="892.4" cy="349.3" r="2.5"/><circle cx="902.3" cy="349.6" r="2.5"/><circle cx="912.1" cy="350.0" r="2.5"/><circle cx="922.0" cy="350.5" r="2.5"/></g>
<path d="M257.7 561.1 h13.6 l-6.8 11.7 z" class="o"/>
<path d="M333.5 561.1 h13.6 l-6.8 11.7 z" class="o"/>
<path d="M409.2 527.1 h13.6 l-6.8 11.7 z" class="o"/>
<path d="M485.0 505.1 h13.6 l-6.8 11.7 z" class="o"/>
<path d="M560.7 485.5 h13.6 l-6.8 11.7 z" class="o"/>
<path d="M636.5 451.1 h13.6 l-6.8 11.7 z" class="o"/>
<path d="M712.3 407.3 h13.6 l-6.8 11.7 z" class="o"/>
<path d="M803.5 349.5 h13.6 l-6.8 11.7 z" class="o"/>
<path d="M918.9 346.7 h13.6 l-6.8 11.7 z" class="o"/>
</g>
<path class="ln" d="M169.3 257.7 H243.8"/>
<circle cx="206.3" cy="257.7" r="6.2" class="o"/>
<text x="261.8" y="269.2">BJ soil</text>
<path class="ln" d="M169.3 297.4 H243.8"/>
<path d="M206.3 288.1 l8.1 13.9 h-16.2 z" class="f"/>
<text x="261.8" y="308.9">NMG soil</text>
<path class="ln" d="M169.3 337.1 H243.8"/>
<rect x="200.1" y="330.9" width="12.4" height="12.4" class="o"/>
<text x="261.8" y="348.6">YN soil</text>
<path class="ln" d="M169.3 376.8 H243.8"/>
<path d="M206.3 367.5 l9.3 9.3 l-9.3 9.3 l-9.3 -9.3 z" class="f"/>
<text x="261.8" y="388.3">HLJ soil</text>
<path class="ln" d="M169.3 416.5 H243.8"/>
<path d="M199.5 412.6 h13.6 l-6.8 11.7 z" class="o"/>
<text x="261.8" y="428.0">GX soil</text>
</svg></body></html>
